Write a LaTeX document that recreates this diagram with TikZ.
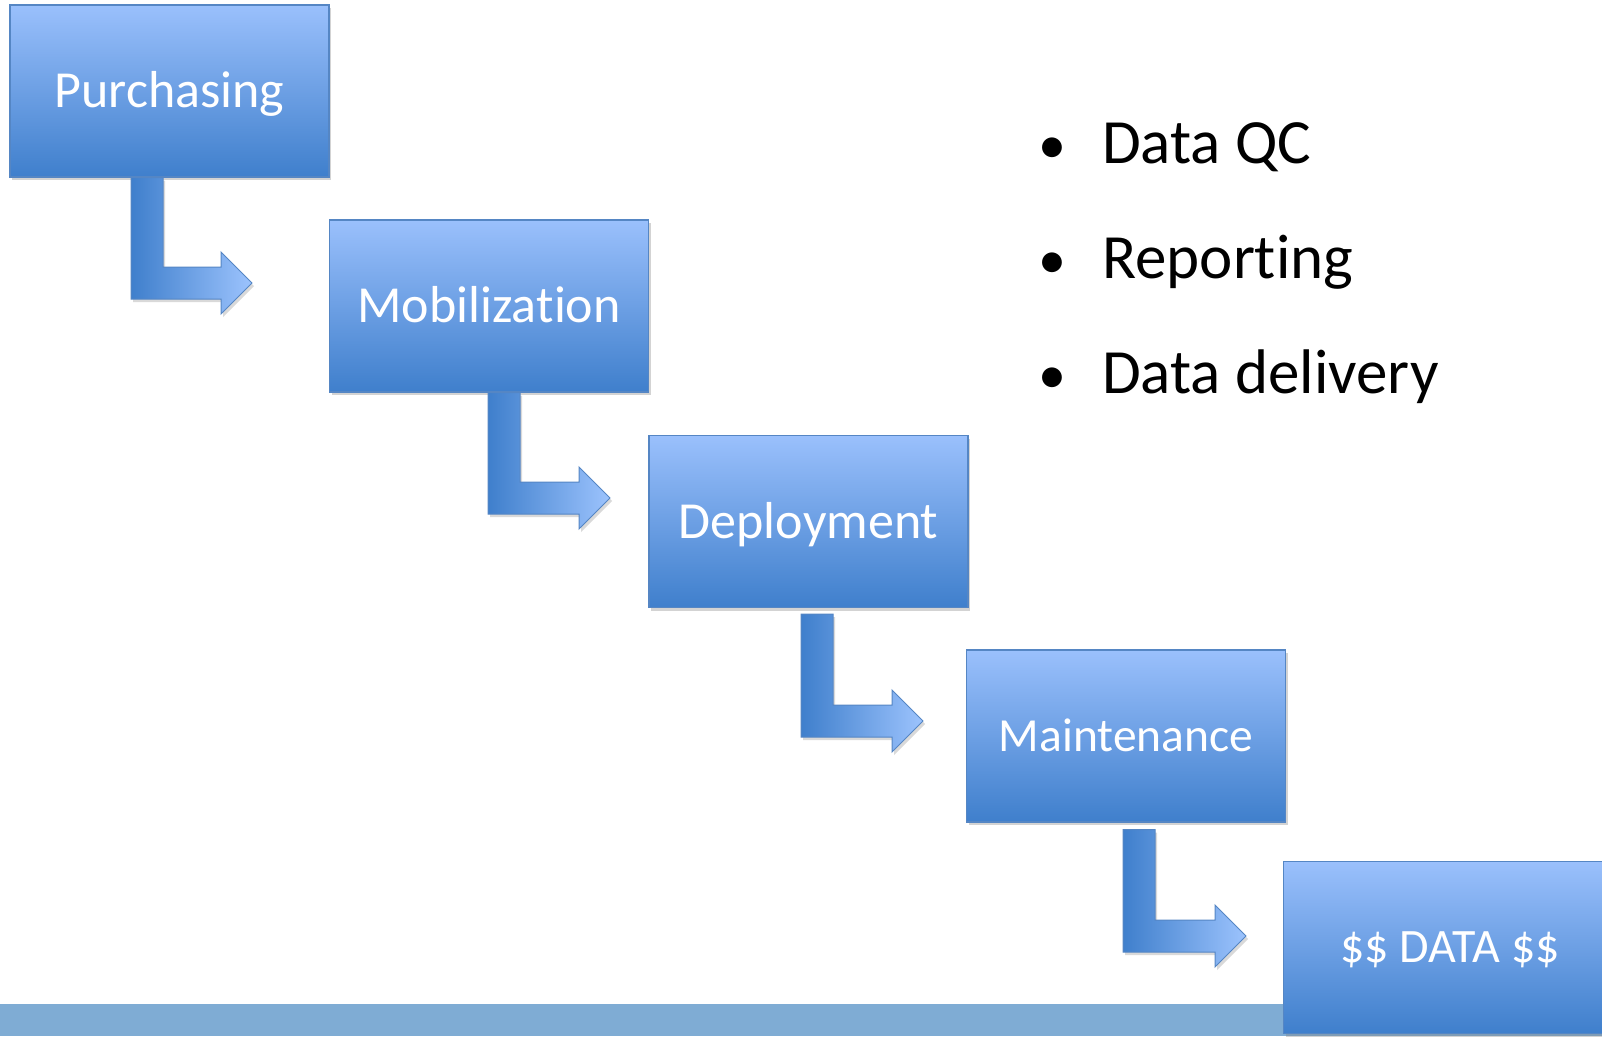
\documentclass[tikz,border=0pt]{standalone}
\usepackage{fontspec}
\setmainfont{Carlito}[Ligatures={NoCommon,NoContextual,NoRequired}]
\usetikzlibrary{calc,shadows}

\definecolor{boxtop}{HTML}{9AC0FC}
\definecolor{boxmid}{HTML}{7BA6EA}
\definecolor{boxbot}{HTML}{3F7FCC}
\definecolor{boxline}{HTML}{5586C4}
\definecolor{turndark}{HTML}{3F7FCC}
\definecolor{turnlight}{HTML}{9CC3FD}
\definecolor{band}{HTML}{7FACD4}

\tikzset{
  stage/.style={draw=boxline, line width=1.2pt, top color=boxtop, middle color=boxmid, bottom color=boxbot,
    minimum width=319pt, minimum height=172pt, inner sep=0pt, text=white,
    font=\fontsize{52}{60}\selectfont, text height=33pt, text depth=0pt,
    drop shadow={shadow xshift=2pt, shadow yshift=-3pt, opacity=0.35}},
  turn/.style={draw=boxline, line width=1pt, left color=turndark, right color=turnlight,
    drop shadow={shadow xshift=2pt, shadow yshift=-3pt, opacity=0.3}},
  point/.style={anchor=base west, inner sep=0pt, font=\fontsize{63}{70}\selectfont}
}

% bent arrow: box above, tip coordinate, left x of the stem, gap under the box
\newcommand{\bentarrow}[4]{%
  \path[turn] let \p1=(#1.south), \p2=(#2) in
    (#3pt,\y1-#4pt) -- (#3pt+32pt,\y1-#4pt) -- (#3pt+32pt,\y2+16pt)
    -- (\x2-31pt,\y2+16pt) -- (\x2-31pt,\y2+31pt) -- (\x2,\y2)
    -- (\x2-31pt,\y2-31pt) -- (\x2-31pt,\y2-16pt) -- (#3pt,\y2-16pt) -- cycle;
}

\begin{document}
\begin{tikzpicture}[x=1pt,y=-1pt]
  \useasboundingbox (0,0) rectangle (1602,1036);

  \fill[band] (0,1004) rectangle (1602,1036);

  \node[stage] (purch) at (169.5,91) {Purchasing};
  \node[stage] (mobil) at (489,306) {Mobiliza\kern0pt tion};
  \node[stage] (deploy) at (808.5,521.5) {Deployment};
  \node[stage, font=\fontsize{47.5}{54}\selectfont, text height=30pt] (maint) at (1126,736) {Maintenance};
  \node[stage, font=\fontsize{48}{54}\selectfont, text height=30pt] (data) at (1443,947.5) {\hspace{14pt}\$\$ DATA \$\$};

  \coordinate (tip1) at (252,283);
  \coordinate (tip2) at (610,498);
  \coordinate (tip3) at (923,721);
  \coordinate (tip4) at (1246,936);

  \bentarrow{purch}{tip1}{131}{0}
  \bentarrow{mobil}{tip2}{488}{0}
  \bentarrow{deploy}{tip3}{801}{6}
  \bentarrow{maint}{tip4}{1123}{7}

  \node[point] (qc) at (1038,163) {\makebox[64pt][l]{\fontsize{56}{60}\selectfont •}Data QC};
  \node[point] (report) at (1038,278) {\makebox[64pt][l]{\fontsize{56}{60}\selectfont •}Repor\kern0pt ting};
  \node[point] (deliver) at (1038,393) {\makebox[64pt][l]{\fontsize{56}{60}\selectfont •}Data delivery};
\end{tikzpicture}
\end{document}
